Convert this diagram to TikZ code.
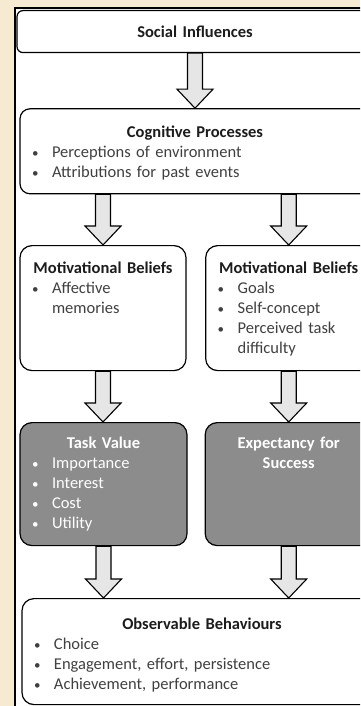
\documentclass[tikz,border=0pt]{standalone}
\usepackage{fontspec}
\setmainfont{Carlito}
\usepackage{tikz}
\usetikzlibrary{positioning}
\usetikzlibrary{calc}

\definecolor{bgbeige}{HTML}{F7EAD3}
\definecolor{titleblack}{HTML}{1C1C1C}
\definecolor{itemgray}{HTML}{404040}
\definecolor{valuegray}{HTML}{8C8C8C}
\definecolor{arrowgray}{HTML}{E6E6E6}

\tikzset{boxsize/.style 2 args = {text height=#1, text depth=#2}}

\newcommand{\boxtitle}[1]{{\centering\bfseries #1\par}}
\newcommand{\itm}[1]{\makebox[20pt][l]{\fontsize{13}{20}\selectfont\textbullet}#1\par}
\newcommand{\itc}[1]{\hspace*{20pt}#1\par}
\newcommand{\flow}[2]{%
  \draw[blockarrow] let \p1 = (#1), \p2 = (#2) in
    (\x1-7.5pt,\y1) -- (\x1+7.5pt,\y1) -- (\x1+7.5pt,\y2+19pt)
    -- (\x1+18pt,\y2+19pt) -- (\x1,\y2) -- (\x1-18pt,\y2+19pt)
    -- (\x1-7.5pt,\y2+19pt) -- cycle;}

\begin{document}
\begin{tikzpicture}[ x = 1pt, y = -1pt
                     , font = \fontsize{16.5}{20}\selectfont
                     , every node/.style = { rectangle
                                         , draw = black
                                         , line width = 1.2pt
                                         , fill = white
                                         , align = left
                                         , anchor = north
                                         , inner xsep = 12pt
                                         , inner ysep = 0pt
                                         , text = itemgray }
                     ]

    \tikzset{ belief/.style = {rounded corners=12pt, text width=142pt}
            , outcome/.style = {rounded corners=12pt, fill=valuegray,
                                text=white, text width=143pt}
            , blockarrow/.style = {draw=black, line width=1.1pt,
                                   fill=arrowgray, line join=miter}}

    \clip (0,0) rectangle (360,706);
    \fill[bgbeige] (0,0) rectangle (360,706);
    \draw[line width=2pt, fill=white] (15,8) rectangle (400,730);
    %%
    %% Nodes
    %%
    \node (social) [rounded corners=6pt, text width=332pt, boxsize={27pt}{15pt}]
      at (195,10) {\boxtitle{\color{titleblack}Social Influences}};
    \node (cog) [rounded corners=10pt, text width=326pt, boxsize={29pt}{56pt},
      below = 55pt of social]
      {\boxtitle{\color{titleblack}Cognitive Processes}
       \itm{Perceptions of environment}
       \itm{Attributions for past events}};
    \node (mbl) [belief, boxsize={28pt}{97pt}] at (103,245)
      {\boxtitle{\color{titleblack}Motivational Beliefs}
       \itm{Affective}
       \itc{memories}};
    \node (mbr) [belief, boxsize={28pt}{97pt}, right = 18.5pt of mbl]
      {\boxtitle{\color{titleblack}Motivational Beliefs}
       \itm{Goals}
       \itm{Self-concept}
       \itm{Perceived task}
       \itc{difficulty}};
    \node (value) [outcome, boxsize={26pt}{97pt}] at (103.5,422)
      {\boxtitle{Task Value}
       \itm{Importance}
       \itm{Interest}
       \itm{Cost}
       \itm{Utility}};
    \node (expect) [outcome, boxsize={26pt}{97pt}, right = 17pt of value]
      {\boxtitle{Expectancy for\\ Success}};
    \node (behav) [rounded corners=12pt, text width=336pt, boxsize={31pt}{75pt}]
      at (202,598)
      {\boxtitle{\color{titleblack}Observable Behaviours}
       \itm{Choice}
       \itm{Engagement, effort, persistence}
       \itm{Achievement, performance}};
    %%
    %% Arrows
    %%
    \flow{social.south}{cog.north}
    \flow{mbl.north |- cog.south}{mbl.north}
    \flow{mbr.north |- cog.south}{mbr.north}
    \flow{mbl.south}{value.north}
    \flow{mbr.south}{expect.north}
    \flow{value.south}{value.south |- behav.north}
    \flow{expect.south}{expect.south |- behav.north}
  \end{tikzpicture}
\end{document}
